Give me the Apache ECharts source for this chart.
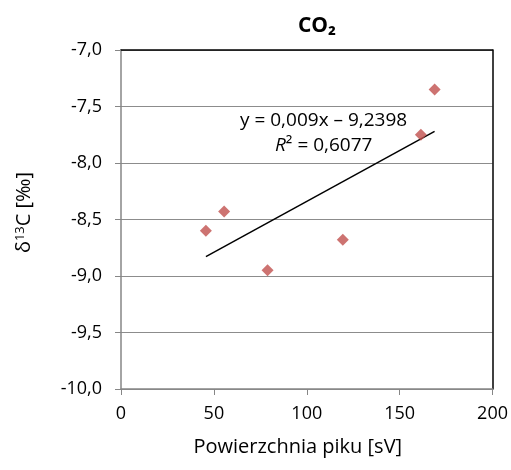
<!DOCTYPE html>
<html>
<head>
<meta charset="utf-8">
<script src="https://cdn.jsdelivr.net/npm/echarts@6/dist/echarts.min.js"></script>
<style>html,body{margin:0;padding:0;background:#fff}#c{width:511px;height:470px}</style>
</head>
<body>
<div id="c"></div>
<script>
const pikX = [45.7, 55.5, 78.9, 119.4, 161.4, 168.8];
const d13C = [-8.60, -8.43, -8.95, -8.68, -7.75, -7.35];
const trendX = [45.7, 168.8];
const trendY = [-8.829, -7.720];
const xTicks = [0, 50, 100, 150, 200];
const yTicks = [-10.0, -9.5, -9.0, -8.5, -8.0, -7.5, -7.0];
const chartTitle = 'CO₂';
const xName = 'Powierzchnia piku [sV]';
const eqText = 'y = 0,009x – 9,2398';
const r2Text = '0,6077';

const FONT = 'Open Sans, sans-serif';
const chart = echarts.init(document.getElementById('c'));
const fmt = v => v.toFixed(1).replace('.', ',');
chart.setOption({
  animation: false,
  title: {
    text: chartTitle, left: 312, top: 11, textAlign: 'center',
    textStyle: {fontFamily: FONT, fontSize: 21, fontWeight: 'bold', color: '#000'}
  },
  grid: {left: 121, right: 18, top: 50, bottom: 81, containLabel: false},
  xAxis: [{
    type: 'value', min: xTicks[0], max: xTicks[xTicks.length - 1], interval: 50,
    name: xName, nameLocation: 'middle', nameGap: 48,
    nameTextStyle: {fontFamily: FONT, fontSize: 20, color: '#000', padding: [0, 18, 0, 0]},
    axisLine: {show: true, lineStyle: {color: '#868686', width: 1.5}},
    axisTick: {show: true, inside: false, length: 6, lineStyle: {color: '#868686'}},
    axisLabel: {fontFamily: FONT, fontSize: 18, color: '#000', margin: 16},
    splitLine: {show: false}
  }, {
    type: 'value', position: 'top', min: 0, max: 200,
    axisLine: {show: true, onZero: false, lineStyle: {color: '#000', width: 1.5}},
    axisTick: {show: false}, axisLabel: {show: false}, splitLine: {show: false}
  }],
  yAxis: [{
    type: 'value', min: yTicks[0], max: yTicks[yTicks.length - 1], interval: 0.5,
    name: '{n|δ}{s|13}{n|C [‰]}', nameLocation: 'middle', nameGap: 86, nameRotate: 90,
    nameTextStyle: {
      padding: [0, 0, 0, 14],
      rich: {
        n: {fontFamily: FONT, fontSize: 20, color: '#000'},
        s: {fontFamily: FONT, fontSize: 13, color: '#000', verticalAlign: 'top', padding: [0, 0, 8, 0]}
      }
    },
    axisLine: {show: true, onZero: false, lineStyle: {color: '#868686', width: 1.5}},
    axisTick: {show: true, inside: false, length: 6, lineStyle: {color: '#868686'}},
    axisLabel: {fontFamily: FONT, fontSize: 18, color: '#000', margin: 19, formatter: fmt},
    splitLine: {show: true, lineStyle: {color: '#8c8c8c', width: 1}}
  }, {
    type: 'value', position: 'right', min: -10, max: -7,
    axisLine: {show: true, onZero: false, lineStyle: {color: '#000', width: 1.5}},
    axisTick: {show: false}, axisLabel: {show: false}, splitLine: {show: false}
  }],
  graphic: [{
    type: 'text', left: 240, top: 111,
    style: {text: eqText, font: '19px ' + FONT, fill: '#000'}
  }, {
    type: 'text', left: 275, top: 136,
    style: {
      text: '{i|R}{n|² = ' + r2Text + '}',
      rich: {
        i: {fontFamily: FONT, fontSize: 19, fontStyle: 'italic', fill: '#000'},
        n: {fontFamily: FONT, fontSize: 19, fill: '#000'}
      }
    }
  }],
  series: [{
    type: 'line', data: trendX.map((x, i) => [x, trendY[i]]),
    symbol: 'none', lineStyle: {color: '#000', width: 1.5}, z: 3
  }, {
    type: 'scatter', data: pikX.map((x, i) => [x, d13C[i]]),
    symbol: 'diamond', symbolSize: [12, 12],
    itemStyle: {color: '#C0504D'}, z: 4
  }]
});
</script>
</body>
</html>
